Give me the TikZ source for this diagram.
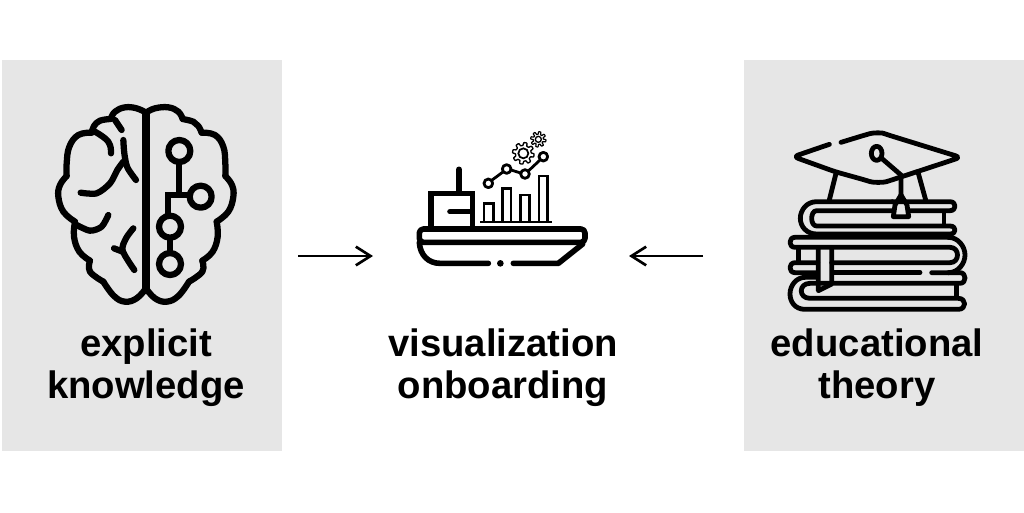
\documentclass[tikz,border=0pt]{standalone}
\usepackage{fontspec}
\setmainfont{Liberation Sans}
\usetikzlibrary{arrows.meta}
\definecolor{panelgray}{HTML}{E6E6E6}
\definecolor{ink}{HTML}{000000}
\tikzset{
  panel/.style={fill=panelgray,draw=none,minimum width=280*0.75pt,minimum height=391*0.75pt,inner sep=0pt,outer sep=0pt},
  caption/.style={font=\bfseries\fontsize{28.7}{32}\selectfont,text=ink,inner sep=0pt,anchor=base},
  flow/.style={draw=ink,line width=2pt,-{Straight Barb[length=11pt,width=14pt,line width=2pt]}},
  ic/.style={draw=ink,line cap=round,line join=round,line width=4.7pt,fill=none},
  icb/.style={draw=ink,line cap=round,line join=round,line width=3.6pt,fill=none},
  ict/.style={draw=ink,line cap=round,line join=round,line width=2.1pt,fill=none},
  ico/.style={x=0.25pt,y=-0.25pt}
}
\begin{document}
\begin{tikzpicture}[x=0.75pt,y=-0.75pt]
\useasboundingbox[fill=white] (0,0) rectangle (1024,512);
\node[panel] (left) at (142,255.5) {};
\node[panel] (right) at (884,255.5) {};
\node[caption] (t1) at (146,356) {explicit};
\node[caption] (t2) at (146,398) {knowledge};
\node[caption] (t3) at (503,356) {visualization};
\node[caption] (t4) at (503,398) {onboarding};
\node[caption] (t5) at (877,356) {educational};
\node[caption] (t6) at (877,398) {theory};
\coordinate (a1) at (298,256);
\coordinate (a2) at (373,256);
\coordinate (b1) at (703,256);
\coordinate (b2) at (629,256);
\draw[flow] (a1) -- (a2);
\draw[flow] (b1) -- (b2);
% brain
\begin{scope}[shift={(40,90)},ico]
\draw[ic,line width=5.8pt,line cap=butt] (318,62) -- (318,600);
\draw[ic] plot[smooth,tension=.7] coordinates {(318,68) (290,55) (255,52) (225,65) (212,87)};
\draw[ic] plot[smooth,tension=.7] coordinates {(212,87) (180,92) (162,108) (155,128)};
\draw[ic] plot[smooth,tension=.7] coordinates {(155,128) (115,135) (88,170) (80,220) (80,258)};
\draw[ic] plot[smooth,tension=.7] coordinates {(80,258) (60,285) (55,320) (70,365) (105,395)};
\draw[ic] plot[smooth,tension=.7] coordinates {(105,395) (102,440) (118,485) (150,512)};
\draw[ic] plot[smooth,tension=.7] coordinates {(150,512) (150,545) (190,575)};
\draw[ic] plot[smooth,tension=.7] coordinates {(190,575) (222,618) (255,635) (290,625) (318,595)};
\draw[ic] plot[smooth,tension=.7] coordinates {(318,68) (345,55) (385,52) (415,65) (428,87)};
\draw[ic] plot[smooth,tension=.7] coordinates {(428,87) (460,95) (475,108) (485,128)};
\draw[ic] plot[smooth,tension=.7] coordinates {(485,128) (525,135) (550,170) (556,220) (556,258)};
\draw[ic] plot[smooth,tension=.7] coordinates {(556,258) (576,285) (580,320) (565,365) (530,395)};
\draw[ic] plot[smooth,tension=.7] coordinates {(530,395) (533,440) (518,485) (487,512)};
\draw[ic] plot[smooth,tension=.7] coordinates {(487,512) (487,545) (447,575)};
\draw[ic] plot[smooth,tension=.7] coordinates {(447,575) (415,618) (380,635) (345,625) (318,595)};
\draw[ic] plot[smooth,tension=.7] coordinates {(165,125) (195,145) (210,165) (213,190)};
\draw[ic] (225,90) -- (245,120);
\draw[ic] plot[smooth] coordinates {(250,150) (253,190) (262,232) (288,270)};
\draw[ic] plot[smooth] coordinates {(250,215) (232,240) (210,280) (170,310) (122,308)};
\draw[ic] plot[smooth] coordinates {(205,375) (185,410) (150,422) (110,405)};
\draw[ic] plot[smooth] coordinates {(280,415) (258,445) (248,482) (283,540)};
\draw[ic] (222,475) -- (248,485);
\draw[ic] (418,183) circle (33);
\draw[ic] (482,320) circle (33);
\draw[ic] (390,410) circle (33);
\draw[ic] (390,522) circle (33);
\draw[ic,line cap=butt] (418,216) -- (418,315);
\draw[ic,line join=miter] (450,316) -- (385,316) -- (385,378);
\draw[ic,line cap=butt] (390,443) -- (390,489);
\end{scope}
% ship
\begin{scope}[shift={(400,120)},ico]
\draw[ic,rounded corners=3pt,line width=4.2pt] (58,327) -- (555,327) -- (555,367) -- (58,367) -- cycle;
\draw[ic,line width=4.2pt] (58,367) .. controls (60,405) and (85,430) .. (120,430) -- (265,430);
\draw[ic,line width=4.2pt] (340,430) -- (475,430) -- (548,372);
\fill[ink] (301,430) circle (10);
\draw[ic,line width=4.2pt,line join=miter,line cap=butt] (93,322) -- (93,220) -- (218,220) -- (218,322);
\draw[ic,line width=4.2pt] (177,148) -- (177,215);
\draw[ic,line width=4.2pt] (150,275) -- (215,275);
\draw[ict,line cap=butt,line width=1.7pt] (240,306) -- (457,306);
\foreach \l/\r/\t in {252/280/250,307/333/205,362/388/225,417/443/168}
  \draw[ict,line join=miter,line cap=butt] (\l,306) -- (\l,\t) -- (\r,\t) -- (\r,306);
\draw[ict] (265,190) circle (13);
\draw[ict] (320,147) circle (13);
\draw[ict] (375,162) circle (13);
\draw[ict] (430,110) circle (13);
\draw[ict] (275,181) -- (310,155);
\draw[ict] (333,150) -- (362,159);
\draw[ict] (385,153) -- (420,120);
\draw[draw=ink,line width=1pt,shift={(370,100)}] plot[domain=0:360,samples=145,smooth] (\x:{28+4.5*tanh(3*sin(8*\x))}) -- cycle;
\draw[draw=ink,line width=1.3pt] (370,100) circle (15);
\draw[draw=ink,line width=.9pt,shift={(415,58)}] plot[domain=0:360,samples=145,smooth] (\x:{19+4*tanh(3*sin(8*\x))}) -- cycle;
\draw[draw=ink,line width=1pt] (415,58) circle (9);
\end{scope}
% books and cap
\begin{scope}[shift={(775,120)},ico]
\draw[icb,rounded corners=4pt] (163,73) -- (55,110) -- (180,155) -- (270,180) .. controls (295,188) and (325,188) .. (350,180) -- (557,112) -- (340,45) .. controls (320,38) and (295,38) .. (270,45) -- (198,67);
\draw[icb] (305,100) ellipse (16 and 21);
\draw[icb,line join=miter] (320,115) -- (378,165) -- (378,225);
\draw[icb,line join=round] (378,225) -- (360,255) -- (355,290) -- (401,290) -- (396,255) -- cycle;
\draw[icb] (183,160) -- (163,240);
\draw[icb] (430,160) -- (452,240);
% top book
\draw[icb] (352,245) -- (125,245) .. controls (95,245) and (76,270) .. (76,295) .. controls (76,320) and (95,342) .. (125,342) -- (525,342) .. controls (545,342) and (545,318) .. (525,318) -- (125,318) .. controls (105,318) and (105,272) .. (125,272) -- (352,272);
\draw[icb] (352,245) -- (525,245) .. controls (545,245) and (545,272) .. (525,272) -- (405,272);
\draw[icb,line cap=butt] (507,272) -- (507,318);
% middle
\draw[icb] (520,352) -- (60,352) .. controls (40,352) and (40,382) .. (60,382) -- (525,382) .. controls (555,382) and (555,428) .. (525,428) -- (170,428);
\draw[icb] (520,352) .. controls (550,352) and (570,380) .. (570,405) .. controls (570,430) and (550,458) .. (520,458) -- (470,458);
\draw[icb,line cap=butt] (70,382) -- (70,428);
\draw[icb] (128,428) -- (60,428) .. controls (40,428) and (40,458) .. (60,458) -- (125,458);
\draw[icb] (175,458) -- (435,458);
% bottom
\draw[icb] (520,458) -- (555,458) .. controls (575,458) and (575,490) .. (555,490) -- (105,490) .. controls (70,490) and (70,535) .. (105,535) -- (550,535) .. controls (575,535) and (575,568) .. (550,568) -- (90,568) .. controls (60,568) and (45,545) .. (45,522) .. controls (45,495) and (65,472) .. (90,472) -- (125,472);
\draw[icb,line cap=butt] (545,490) -- (545,535);
% bookmark
\draw[icb] (130,388) -- (130,512) -- (170,492) -- (170,388);
\end{scope}
\end{tikzpicture}
\end{document}
